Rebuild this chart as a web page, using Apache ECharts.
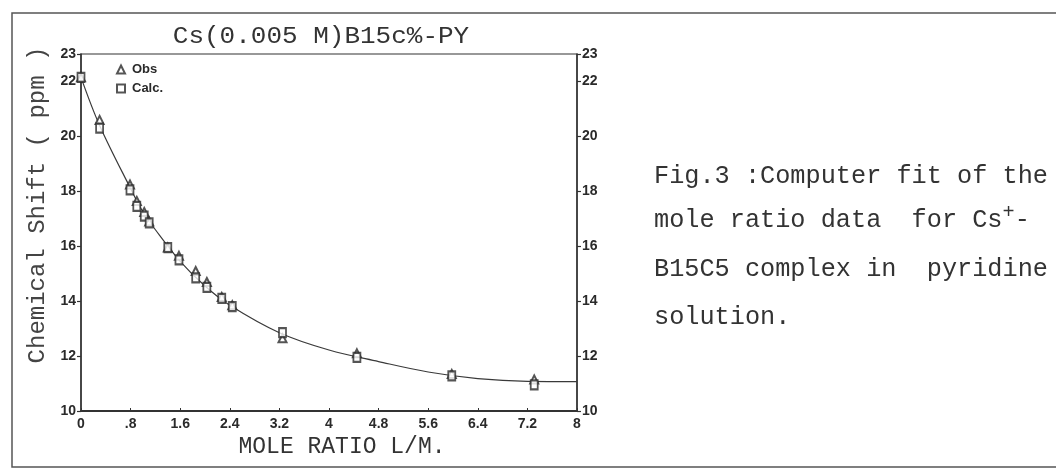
<!DOCTYPE html>
<html><head><meta charset="utf-8">
<script src="https://cdn.jsdelivr.net/npm/echarts@6/dist/echarts.min.js"></script>
<style>html,body{margin:0;padding:0;background:#fff}#c{width:1056px;height:471px}</style>
</head><body><div id="c"></div>
<script>
// Observed and calculated chemical shifts vs mole ratio
const moleRatio = [0, 0.3, 0.79, 0.9, 1.02, 1.1, 1.4, 1.58, 1.85, 2.03, 2.27, 2.44, 3.25, 4.45, 5.98, 7.31];
const obsShift  = [22.15, 20.6, 18.25, 17.65, 17.25, 16.9, 15.95, 15.65, 15.1, 14.7, 14.15, 13.85, 12.65, 12.1, 11.35, 11.15];
const calcShift = [22.15, 20.3, 18.05, 17.45, 17.1, 16.85, 15.95, 15.5, 14.85, 14.5, 14.1, 13.8, 12.85, 11.95, 11.28, 10.95];
// Fitted curve
const fitX = [0, 0.3, 0.8, 1.0, 1.2, 1.6, 2.0, 2.4, 3.2, 4.0, 4.8, 5.6, 6.4, 7.2, 8.0];
const fitY = [22.15, 20.4, 18.1, 17.25, 16.6, 15.45, 14.55, 13.85, 12.85, 12.22, 11.8, 11.42, 11.18, 11.08, 11.07];
// Tick labels
const xTickLabels = ['0', '.8', '1.6', '2.4', '3.2', '4', '4.8', '5.6', '6.4', '7.2', '8'];
const yTickLabels = ['10', '12', '14', '16', '18', '20', '22', '23'];

const INK = '#333';
const tickFont = {color: '#2a2a2a', fontSize: 14, fontWeight: 'bold', fontFamily: '"Liberation Sans Narrow","Liberation Sans",sans-serif'};
const mono = '"Liberation Mono","DejaVu Sans Mono",monospace';

const chart = echarts.init(document.getElementById('c'), null, {renderer: 'canvas'});
const yLabel = v => { const s = String(Math.round(v)); return yTickLabels.indexOf(s) >= 0 ? s : ''; };
const yAxisBase = {
  type: 'value', min: 10, max: 23, interval: 2,
  splitLine: {show: false},
  axisLine: {show: true, lineStyle: {color: INK, width: 1.5}},
  axisTick: {show: true, inside: false, length: 4, lineStyle: {color: INK, width: 1.2}},
  axisLabel: Object.assign({margin: 5, formatter: yLabel}, tickFont)
};
const para = (y, text) => ({type: 'text', x: 654, y: y, scaleX: 1.01,
  style: {text: text, textVerticalAlign: 'middle', fill: INK,
    rich: {m: {font: '25px ' + mono, fill: INK}, sup: {font: '20px ' + mono, fill: INK, verticalAlign: 'top', padding: [0, 0, 14, 0]}}}});
chart.setOption({
  animation: false,
  backgroundColor: '#fff',
  grid: {left: 81, right: 479, top: 54, bottom: 60, show: true, borderColor: INK, borderWidth: 1.2, backgroundColor: 'transparent'},
  legend: {
    orient: 'vertical', left: 116, top: 63, itemWidth: 8, itemHeight: 8, itemGap: 6, padding: 0,
    data: ['Obs', 'Calc.'],
    textStyle: Object.assign({}, tickFont, {fontSize: 13, padding: [0, 0, 0, 2]})
  },
  xAxis: {
    type: 'value', min: 0, max: 8, interval: 0.8,
    splitLine: {show: false},
    axisLine: {show: true, onZero: false, lineStyle: {color: INK, width: 2}},
    axisTick: {show: true, inside: true, length: 3, lineStyle: {color: INK}},
    axisLabel: Object.assign({margin: 6, formatter: v => xTickLabels[Math.round(v / 0.8)] || ''}, tickFont)
  },
  yAxis: [
    Object.assign({position: 'left'}, yAxisBase),
    Object.assign({position: 'right'}, yAxisBase)
  ],
  series: [
    {
      type: 'line', name: 'fit', data: fitX.map((x, i) => [x, fitY[i]]),
      smooth: 0.35, symbol: 'none', lineStyle: {color: '#3a3a3a', width: 1.2}, z: 1, legendHoverLink: false
    },
    {
      type: 'scatter', name: 'Obs', data: moleRatio.map((x, i) => [x, obsShift[i]]),
      symbol: 'emptyTriangle', symbolSize: [8, 8],
      itemStyle: {color: '#2a2a2a', borderWidth: 1.3}, z: 3
    },
    {
      type: 'scatter', name: 'Calc.', data: moleRatio.map((x, i) => [x, calcShift[i]]),
      symbol: 'emptyRect', symbolSize: [7, 9],
      itemStyle: {color: '#2a2a2a', borderWidth: 1.3}, z: 3
    }
  ],
  graphic: [
    {type: 'rect', shape: {x: 12, y: 13, width: 1100, height: 454}, style: {fill: 'none', stroke: '#555', lineWidth: 1.5}, silent: true},
    {type: 'text', x: 321, y: 37, scaleX: 1.13, style: {text: 'Cs(0.005 M)B15c%-PY', font: '23px ' + mono, fill: INK, textAlign: 'center', textVerticalAlign: 'middle'}},
    {type: 'text', x: 342, y: 447, style: {text: 'MOLE RATIO L/M.', font: '23px ' + mono, fill: INK, textAlign: 'center', textVerticalAlign: 'middle'}},
    {type: 'text', x: 38, y: 205, rotation: Math.PI / 2, style: {text: 'Chemical Shift ( ppm )', font: '24px ' + mono, fill: '#444', textAlign: 'center', textVerticalAlign: 'middle'}},
    para(176, '{m|Fig.3 :Computer fit of the}'),
    para(220, '{m|mole ratio data  for Cs}{sup|+}{m|-}'),
    para(269, '{m|B15C5 complex in  pyridine}'),
    para(317, '{m|solution.}')
  ]
});
</script>
</body></html>
